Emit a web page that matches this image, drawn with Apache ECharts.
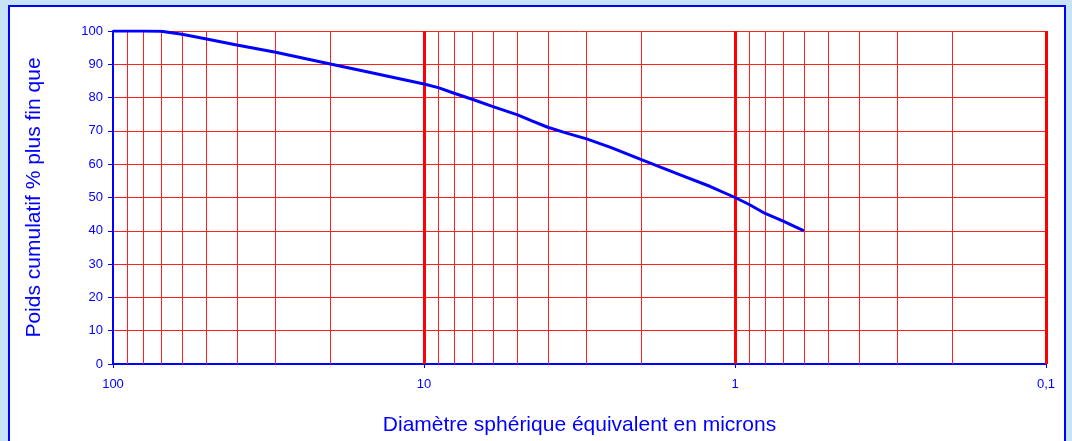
<!DOCTYPE html>
<html>
<head>
<meta charset="utf-8">
<script src="https://cdn.jsdelivr.net/npm/echarts@6/dist/echarts.min.js"></script>
<style>
html,body{margin:0;padding:0;background:#c6e4f5;}
#chart{width:1072px;height:441px;}
</style>
</head>
<body>
<div id="chart"></div>
<script>
// Diameters (microns) and cumulative % finer
var diameters = [100, 90, 80, 70, 60, 50, 40, 30, 20, 15, 10, 9, 8, 7, 6, 5, 4.5, 4, 3.5, 3, 2.5, 2, 1.5, 1.2, 1, 0.9, 0.8, 0.7, 0.6];
var cumulative = [100, 100, 100, 99.9, 99.0, 97.6, 95.8, 93.6, 90.1, 87.6, 84.1, 83.0, 81.3, 79.5, 77.3, 74.8, 73.0, 71.1, 69.4, 67.6, 65.0, 61.4, 56.8, 53.3, 50.0, 47.9, 45.2, 42.9, 40.0];
var xTickValues = [100, 10, 1, 0.1];
var xTickLabels = ['100', '10', '1', '0,1'];
var majorGrid = [10, 1, 0.1];
var minorGrid = [90, 80, 70, 60, 50, 40, 30, 20, 9, 8, 7, 6, 5, 4, 3, 2, 0.9, 0.8, 0.7, 0.6, 0.5, 0.4, 0.3, 0.2];
var yTicks = [0, 10, 20, 30, 40, 50, 60, 70, 80, 90, 100];

var chart = echarts.init(document.getElementById('chart'), null, {renderer: 'canvas'});
var pts = diameters.map(function (d, i) { return [d, cumulative[i]]; });

function labelFor(v) {
  for (var i = 0; i < xTickValues.length; i++) {
    if (Math.abs(Math.log10(v) - Math.log10(xTickValues[i])) < 1e-6) return xTickLabels[i];
  }
  return '';
}

var option = {
  backgroundColor: '#c6e4f5',
  animation: false,
  graphic: [{
    type: 'rect', z: -10, silent: true,
    shape: {x: 9, y: 6, width: 1056, height: 460},
    style: {fill: '#ffffff', stroke: '#0000ff', lineWidth: 2}
  }],
  grid: {left: 113, right: 26, top: 31, bottom: 76, containLabel: false},
  xAxis: {
    type: 'log', logBase: 10, min: 0.1, max: 100, inverse: true,
    name: 'Diamètre sphérique équivalent en microns',
    nameLocation: 'middle', nameGap: 51,
    nameTextStyle: {color: '#0000ff', fontSize: 21, fontFamily: 'Liberation Sans, Arial, sans-serif'},
    axisLine: {show: true, onZero: false, lineStyle: {color: '#0000ff', width: 2}},
    axisTick: {show: true, length: 4, lineStyle: {color: '#0000ff', width: 1}},
    axisLabel: {color: '#0000ff', fontSize: 13, margin: 14, fontFamily: 'Liberation Sans, Arial, sans-serif',
      formatter: function (v) { return labelFor(v); }},
    splitLine: {show: false},
    minorTick: {show: false}
  },
  yAxis: {
    type: 'value', min: 0, max: 100, interval: 10,
    name: 'Poids cumulatif % plus fin que',
    nameLocation: 'middle', nameGap: 68, nameRotate: 90,
    nameTextStyle: {color: '#0000ff', fontSize: 21, fontFamily: 'Liberation Sans, Arial, sans-serif'},
    axisLine: {show: true, onZero: false, lineStyle: {color: '#0000ff', width: 2}},
    axisTick: {show: true, length: 5, lineStyle: {color: '#0000ff', width: 1}},
    axisLabel: {color: '#0000ff', fontSize: 13, margin: 10, fontFamily: 'Liberation Sans, Arial, sans-serif',
      formatter: function (v) { return yTicks.indexOf(v) >= 0 ? String(v) : ''; }},
    splitLine: {show: true, lineStyle: {color: '#ff2020', width: 1}}
  },
  series: [
    {
      type: 'line', data: [], z: 1, silent: true,
      markLine: {
        silent: true, symbol: ['none', 'none'], z: 1, animation: false,
        label: {show: false},
        emphasis: {disabled: true},
        data: minorGrid.map(function (v) { return {xAxis: v, lineStyle: {color: '#ff2020', width: 1, type: 'solid'}}; })
          .concat(majorGrid.map(function (v) { return {xAxis: v, lineStyle: {color: '#ff0000', width: 3, type: 'solid'}}; }))
      }
    },
    {
      type: 'line', data: pts, z: 3, showSymbol: false, symbol: 'none', smooth: false,
      lineStyle: {color: '#0000ff', width: 3},
      itemStyle: {color: '#0000ff'}
    }
  ]
};
chart.setOption(option);
</script>
</body>
</html>
